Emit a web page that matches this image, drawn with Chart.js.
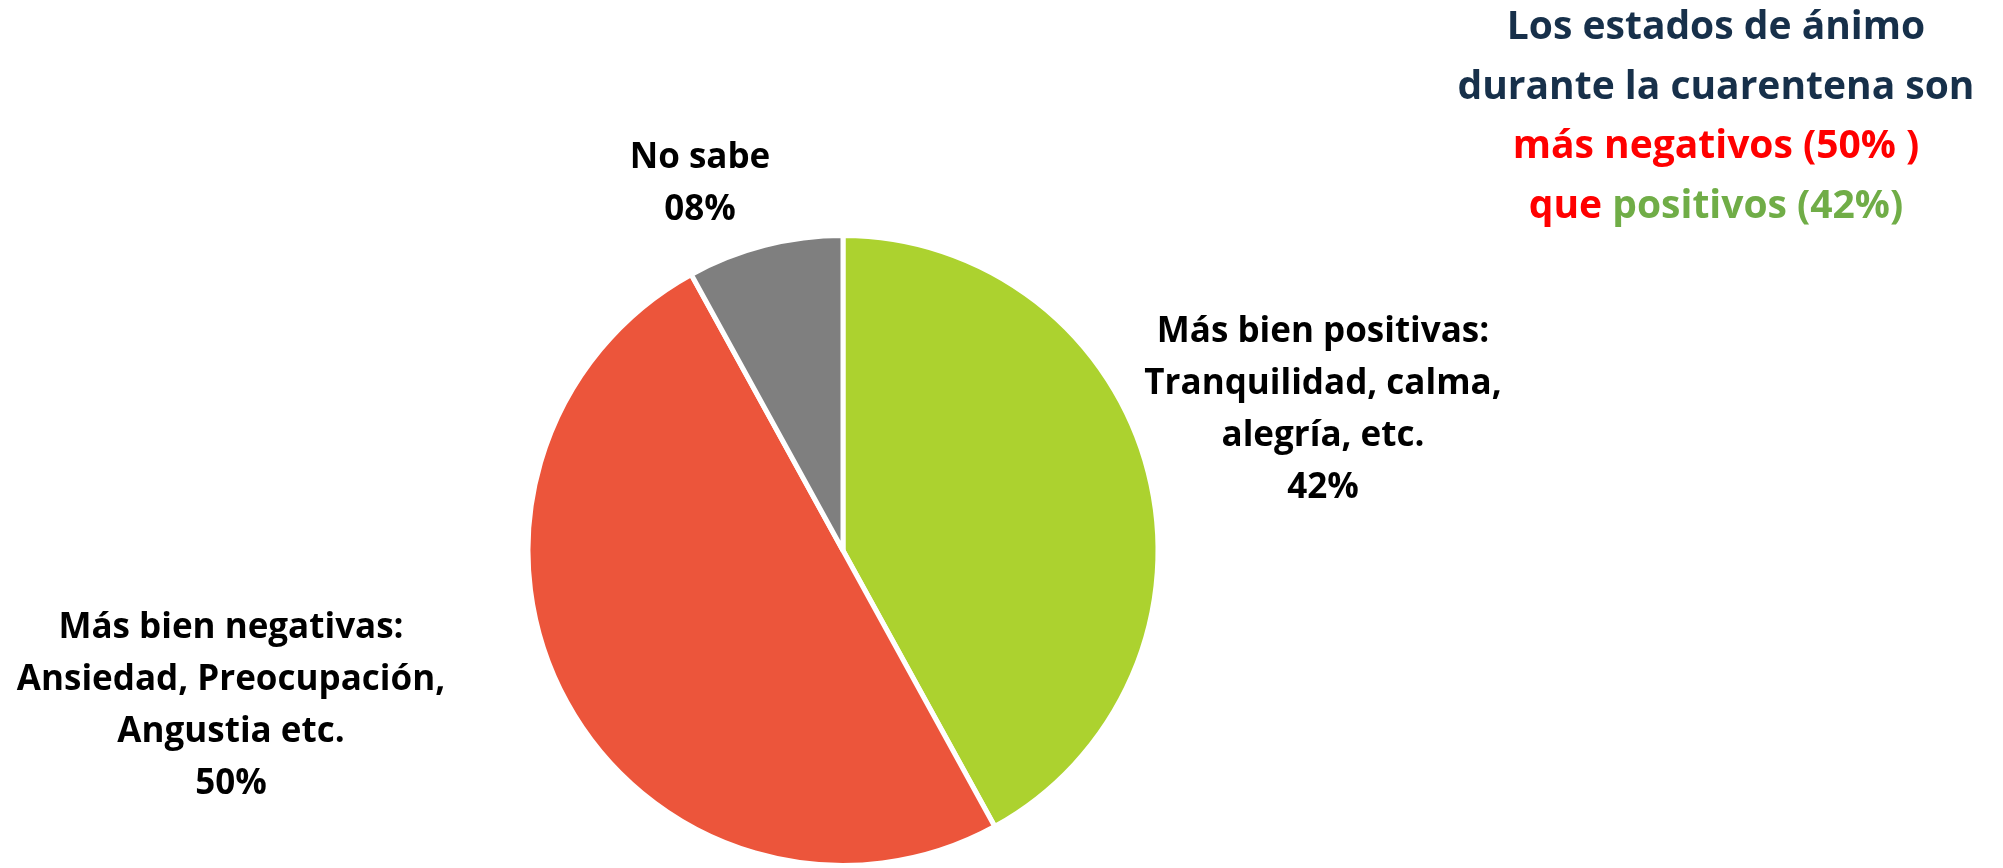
<!DOCTYPE html>
<html>
<head>
<meta charset="utf-8">
<script src="https://cdn.jsdelivr.net/npm/chart.js@4.4.0/dist/chart.umd.min.js"></script>
<style>
  html, body { margin: 0; padding: 0; background: #fff; }
  #wrap { width: 2003px; height: 868px; position: relative; }
</style>
</head>
<body>
<div id="wrap"><canvas id="pie"></canvas></div>
<script>
const categories = [
  ['Más bien positivas:', 'Tranquilidad, calma,', 'alegría, etc.'],
  ['Más bien negativas:', 'Ansiedad, Preocupación,', 'Angustia etc.'],
  ['No sabe']
];
const values = [42, 50, 8];
const colors = ['#ACD22F', '#EC553B', '#7F7F7F'];

// label block centres (px, canvas coords)
const labelPos = [[1323, 410], [231, 706], [700, 184]];

const titleLines = [
  [['Los estados de ánimo', '#17304A']],
  [['durante la cuarentena son', '#17304A']],
  [['más negativos (50% )', '#FF0000']],
  [['que ', '#FF0000'], ['positivos (42%)', '#70AD47']]
];

const FONT = '"Open Sans", Lato, sans-serif';

const labelPlugin = {
  id: 'sliceLabels',
  afterDraw(chart) {
    const ctx = chart.ctx;
    ctx.save();
    ctx.font = 'bold 35px ' + FONT;
    ctx.fillStyle = '#000';
    ctx.textAlign = 'center';
    ctx.textBaseline = 'middle';
    const lh = 52;
    categories.forEach((lines, i) => {
      const pct = String(values[i]).padStart(2, '0') + '%';
      const all = lines.concat([pct]);
      const [x, y] = labelPos[i];
      const y0 = y - (all.length - 1) * lh / 2;
      all.forEach((t, j) => ctx.fillText(t, x, y0 + j * lh));
    });
    ctx.restore();
  }
};

const titlePlugin = {
  id: 'colorTitle',
  afterDraw(chart) {
    const ctx = chart.ctx;
    ctx.save();
    ctx.font = 'bold 39px ' + FONT;
    ctx.textBaseline = 'middle';
    ctx.textAlign = 'left';
    const cx = 1716, top = 28, lh = 59.5;
    titleLines.forEach((parts, j) => {
      const w = parts.reduce((s, p) => s + ctx.measureText(p[0]).width, 0);
      let x = cx - w / 2;
      parts.forEach(p => {
        ctx.fillStyle = p[1];
        ctx.fillText(p[0], x, top + j * lh);
        x += ctx.measureText(p[0]).width;
      });
    });
    ctx.restore();
  }
};

new Chart(document.getElementById('pie'), {
  type: 'pie',
  data: {
    labels: categories.map(c => c.join(' ')),
    datasets: [{
      data: values,
      backgroundColor: colors,
      borderColor: '#fff',
      borderWidth: 5
    }]
  },
  options: {
    responsive: true,
    maintainAspectRatio: false,
    animation: false,
    layout: { padding: { top: 233, bottom: -5, left: 523, right: 840 } },
    plugins: {
      legend: { display: false },
      tooltip: { enabled: false }
    }
  },
  plugins: [labelPlugin, titlePlugin]
});
</script>
</body>
</html>
